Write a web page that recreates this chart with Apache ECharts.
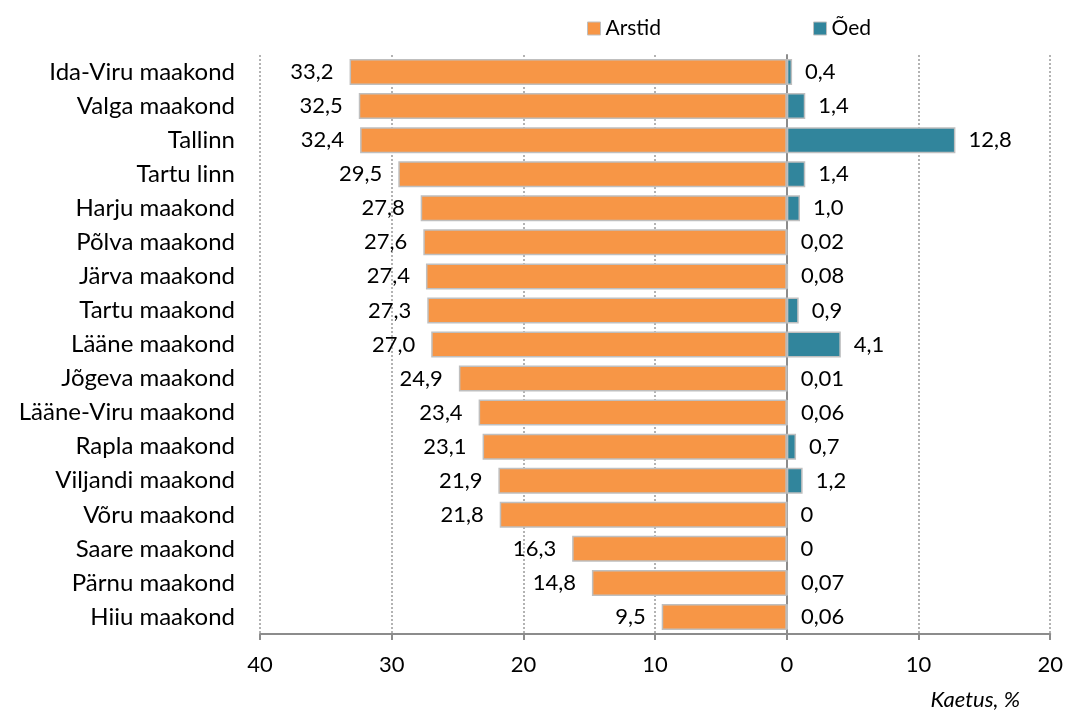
<!DOCTYPE html>
<html>
<head>
    <meta charset="UTF-8">
    <title>Kaetus</title>
    <style type="text/css">
        html, body { margin: 0; padding: 0; background: #ffffff; }
        #main { width: 1066px; height: 715px; }
    </style>
</head>
<body>
<div id="main"></div>
<script src="https://cdn.jsdelivr.net/npm/echarts@6/dist/echarts.min.js"></script>
<script type="text/javascript">
    var regions = ['Ida-Viru maakond', 'Valga maakond', 'Tallinn', 'Tartu linn', 'Harju maakond',
        'Põlva maakond', 'Järva maakond', 'Tartu maakond', 'Lääne maakond', 'Jõgeva maakond',
        'Lääne-Viru maakond', 'Rapla maakond', 'Viljandi maakond', 'Võru maakond',
        'Saare maakond', 'Pärnu maakond', 'Hiiu maakond'];
    var arstid = [33.2, 32.5, 32.4, 29.5, 27.8, 27.6, 27.4, 27.3, 27.0, 24.9, 23.4, 23.1, 21.9, 21.8, 16.3, 14.8, 9.5];
    var oed = [0.4, 1.4, 12.8, 1.4, 1.0, 0.02, 0.08, 0.9, 4.1, 0.01, 0.06, 0.7, 1.2, 0, 0, 0.07, 0.06];
    var xTicks = [-40, -30, -20, -10, 0, 10, 20];

    var font = 'Lato, "Open Sans", sans-serif';

    // numbrid eesti moodi, koma kümnendeks
    function fmt(v) {
        v = Math.abs(v);
        if (v === 0) return '0';
        var s = v < 0.1 ? v.toFixed(2) : v.toFixed(1);
        return s.replace('.', ',');
    }

    var chart = echarts.init(document.getElementById('main'));
    var option = {
        animation: false,
        textStyle: { fontFamily: font },
        grid: { left: 260, right: 14, top: 55, bottom: 81 },
        title: {
            text: 'Kaetus, %',
            right: 46,
            top: 689,
            padding: 0,
            textStyle: { fontFamily: font, fontSize: 22, fontStyle: 'italic', fontWeight: 'normal', color: '#000' }
        },
        legend: {
            left: 582,
            top: 13,
            itemWidth: 13,
            itemHeight: 13,
            itemGap: 152,
            textStyle: { fontFamily: font, fontSize: 21, color: '#000' },
            data: [
                { name: 'Arstid', icon: 'rect', itemStyle: { borderColor: '#bfbfbf', borderWidth: 1 } },
                { name: 'Õed', icon: 'rect', itemStyle: { borderColor: '#bfbfbf', borderWidth: 1 } }
            ]
        },
        xAxis: {
            type: 'value',
            min: xTicks[0],
            max: xTicks[xTicks.length - 1],
            interval: 10,
            axisLine: { show: true, lineStyle: { color: '#8c8c8c', width: 2 } },
            axisTick: { show: true, length: 6, lineStyle: { color: '#8c8c8c', width: 2 } },
            axisLabel: {
                margin: 20,
                fontSize: 22,
                color: '#000',
                formatter: function (v) { return String(Math.abs(v)); }
            },
            splitLine: { show: true, lineStyle: { color: '#9a9a9a', type: [2, 2], width: 1.5 } }
        },
        yAxis: {
            type: 'category',
            inverse: true,
            data: regions,
            axisLine: { show: true, onZero: true, lineStyle: { color: '#8c8c8c', width: 2 } },
            axisTick: { show: false },
            axisLabel: { margin: 25, fontSize: 24, color: '#000' }
        },
        series: [
            {
                name: 'Arstid',
                type: 'bar',
                barWidth: 26,
                barGap: '-100%',
                data: arstid.map(function (v) { return -v; }),
                itemStyle: { color: '#f79646', borderColor: '#bfbfbf', borderWidth: 1.5 },
                label: {
                    show: true,
                    position: 'left',
                    distance: 16,
                    fontSize: 22,
                    color: '#000',
                    formatter: function (p) { return fmt(p.value); }
                }
            },
            {
                name: 'Õed',
                type: 'bar',
                barWidth: 26,
                data: oed,
                itemStyle: { color: '#31859c', borderColor: '#bfbfbf', borderWidth: 1.5 },
                label: {
                    show: true,
                    position: 'right',
                    distance: 13,
                    fontSize: 22,
                    color: '#000',
                    formatter: function (p) { return fmt(p.value); }
                }
            }
        ]
    };
    chart.setOption(option);
</script>
</body>
</html>
